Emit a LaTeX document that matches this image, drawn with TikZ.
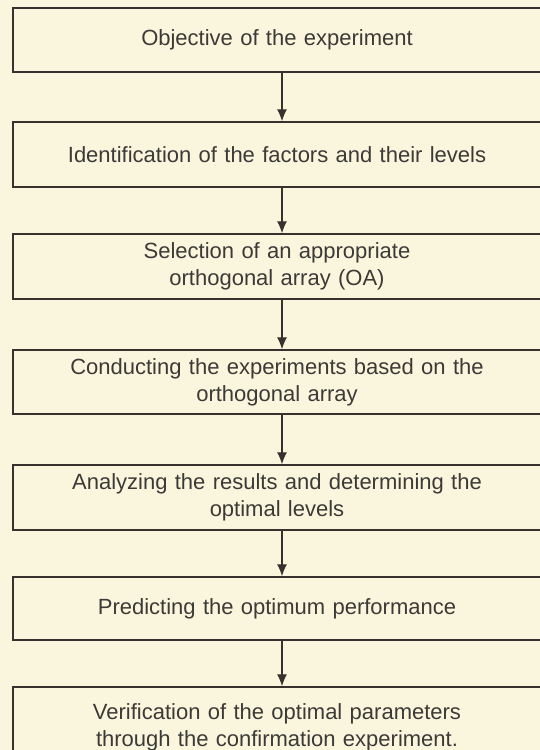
\documentclass[tikz,border=0pt]{standalone}
\usepackage{fontspec}
\setmainfont{Liberation Sans}
\usetikzlibrary{arrows.meta}
\definecolor{paper}{RGB}{250,246,222}
\definecolor{ink}{RGB}{55,50,45}
\definecolor{txt}{RGB}{60,58,55}
\begin{document}
\begin{tikzpicture}[x=1pt,y=1pt,
  stepbox/.style={draw=ink, line width=1.4pt, minimum width=528pt, text width=500pt, align=center,
    inner sep=0pt, text=txt, font=\fontsize{22}{27}\selectfont},
  arr/.style={draw=ink, line width=1.2pt, -{Latex[length=12pt,width=10pt]}}]
\fill[paper] (0,0) rectangle (540,750);
\useasboundingbox (0,0) rectangle (540,750);
\node[stepbox, minimum height=64pt] (b1) at (277,710) {Objective of the experiment};
\node[stepbox, minimum height=65pt] (b2) at (277,595.5) {Identification of the factors and their levels};
\node[stepbox, minimum height=65pt] (b3) at (277,483.5) {Selection of an appropriate\\orthogonal array (OA)};
\node[stepbox, minimum height=64pt] (b4) at (277,368) {Conducting the experiments based on the\\orthogonal array};
\node[stepbox, minimum height=65pt] (b5) at (277,252.5) {Analyzing the results and determining the\\optimal levels};
\node[stepbox, minimum height=63pt] (b6) at (277,141.5) {Predicting the optimum performance};
\node[stepbox, minimum height=80pt] (b7) at (277,23) {Verification of the optimal parameters\\through the confirmation experiment.};
\foreach \a/\b in {b1/b2,b2/b3,b3/b4,b4/b5,b5/b6,b6/b7}
  \draw[arr] ([xshift=5pt]\a.south) -- ([xshift=5pt]\b.north);
\end{tikzpicture}
\end{document}
